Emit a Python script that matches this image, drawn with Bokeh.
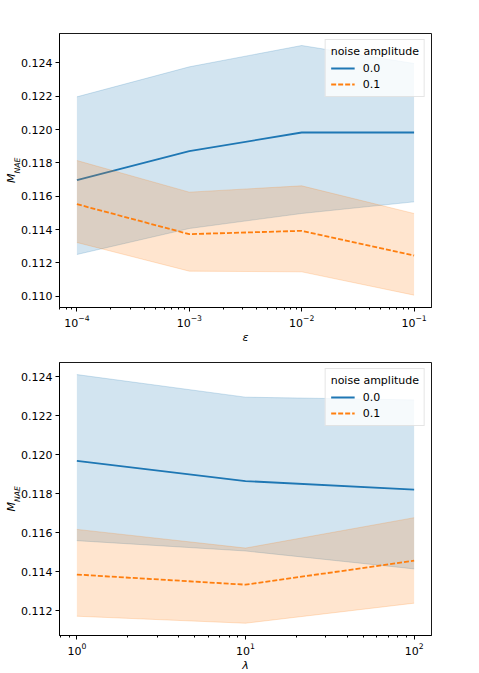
import math
from bokeh.plotting import figure
from bokeh.layouts import column
from bokeh.models import (Range1d, LogTicker, SingleIntervalTicker, NumeralTickFormatter,
                          Legend, LegendItem, Title)
from bokeh.embed import file_html
from bokeh.resources import INLINE

# ---- data: top panel (epsilon) ----
eps = [1e-4, 1e-3, 1e-2, 1e-1]
eps_mean_0 = [0.11696, 0.11870, 0.11982, 0.11982]
eps_lo_0 = [0.11250, 0.11406, 0.11496, 0.11566]
eps_hi_0 = [0.12196, 0.12376, 0.12504, 0.12396]
eps_mean_1 = [0.11552, 0.11372, 0.11392, 0.11244]
eps_lo_1 = [0.11322, 0.11150, 0.11146, 0.11006]
eps_hi_1 = [0.11814, 0.11624, 0.11662, 0.11496]

# ---- data: bottom panel (lambda) ----
lam = [1, 10, 100]
lam_mean_0 = [0.11969, 0.11865, 0.11821]
lam_lo_0 = [0.11559, 0.11506, 0.11414]
lam_hi_0 = [0.12412, 0.12296, 0.12282]
lam_mean_1 = [0.11385, 0.11333, 0.11456]
lam_lo_1 = [0.11171, 0.11135, 0.11238]
lam_hi_1 = [0.11617, 0.11521, 0.11677]

series_labels = ["0.0", "0.1"]
legend_title = "noise amplitude"

BLUE = "#1f77b4"
ORANGE = "#ff7f0e"
FONT = "DejaVu Sans"
FS = "11px"


def make(x, m0, lo0, hi0, m1, lo1, hi1, xr, yr, xlabel, fh, btop):
    p = figure(x_axis_type="log", x_range=Range1d(*xr), y_range=Range1d(*yr),
               frame_width=372, frame_height=fh,
               min_border_left=59, min_border_right=38, min_border_top=btop, min_border_bottom=20,
               output_backend="svg", toolbar_location=None)
    p.grid.visible = False
    p.outline_line_color = "black"
    p.outline_line_width = 1
    p.outline_line_alpha = 0.9

    l0 = p.line(x, m0, line_color=BLUE, line_width=1.8)
    p.varea(x=x, y1=lo0, y2=hi0, fill_color=BLUE, fill_alpha=0.2)
    p.line(x, lo0, line_color=BLUE, line_alpha=0.2, line_width=1)
    p.line(x, hi0, line_color=BLUE, line_alpha=0.2, line_width=1)
    l1 = p.line(x, m1, line_color=ORANGE, line_width=1.8, line_dash="5 2")
    p.varea(x=x, y1=lo1, y2=hi1, fill_color=ORANGE, fill_alpha=0.2)
    p.line(x, lo1, line_color=ORANGE, line_alpha=0.2, line_width=1)
    p.line(x, hi1, line_color=ORANGE, line_alpha=0.2, line_width=1)

    p.xaxis.ticker = LogTicker(mantissas=[1], num_minor_ticks=10)
    p.yaxis.ticker = SingleIntervalTicker(interval=0.002, num_minor_ticks=0)
    p.yaxis.formatter = NumeralTickFormatter(format="0.000")
    for ax in (p.xaxis[0], p.yaxis[0]):
        ax.axis_line_color = "black"
        ax.major_tick_line_color = "black"
        ax.minor_tick_line_color = "black"
        ax.major_tick_in = 0
        ax.major_tick_out = 4
        ax.minor_tick_in = 0
        ax.minor_tick_out = 2
        ax.major_label_text_font = FONT
        ax.major_label_text_font_size = FS
        ax.major_label_text_color = "black"
        ax.major_label_standoff = 3
        ax.axis_label_text_font = FONT
        ax.axis_label_text_font_size = FS
        ax.axis_label_text_color = "black"
        ax.axis_label_text_font_style = "italic"
    p.yaxis.minor_tick_line_color = None
    p.xaxis.axis_label = xlabel
    p.xaxis.axis_label_standoff = 1

    # y label M_NAE: two side-panel titles (subscript inner, main letter outer)
    p.add_layout(Title(text="NAE", align="left", offset=fh / 2 - 3, standoff=-8,
                       vertical_align="middle",
                       text_font=FONT, text_font_size="7.7px", text_font_style="italic",
                       text_color="black"), "left")
    p.add_layout(Title(text="M", align="right", offset=fh / 2 + 3, standoff=-4,
                       vertical_align="bottom",
                       text_font=FONT, text_font_size=FS, text_font_style="italic",
                       text_color="black"), "left")

    leg = Legend(items=[LegendItem(label=series_labels[0], renderers=[l0]),
                        LegendItem(label=series_labels[1], renderers=[l1])],
                 title=legend_title, location="top_right")
    leg.margin = 6
    leg.padding = 5
    leg.spacing = 2
    leg.label_height = 14
    leg.glyph_height = 14
    leg.glyph_width = 24
    leg.label_standoff = 8
    leg.title_standoff = 3
    leg.title_text_font = FONT
    leg.title_text_font_size = FS
    leg.title_text_font_style = "normal"
    leg.title_text_color = "black"
    leg.label_text_font = FONT
    leg.label_text_font_size = FS
    leg.label_text_color = "black"
    leg.border_line_color = "#cccccc"
    leg.background_fill_alpha = 0.8
    p.add_layout(leg)
    return p


p1 = make(eps, eps_mean_0, eps_lo_0, eps_hi_0, eps_mean_1, eps_lo_1, eps_hi_1,
          (10 ** -4.155, 10 ** -0.845), (0.10932, 0.12576), "ε", 274, 33)
p2 = make(lam, lam_mean_0, lam_lo_0, lam_hi_0, lam_mean_1, lam_lo_1, lam_hi_1,
          (10 ** -0.103, 10 ** 2.103), (0.11072, 0.12474), "λ", 273, 16)

layout = column(p1, p2, spacing=0)
open("out.html", "w").write(file_html(layout, INLINE))
